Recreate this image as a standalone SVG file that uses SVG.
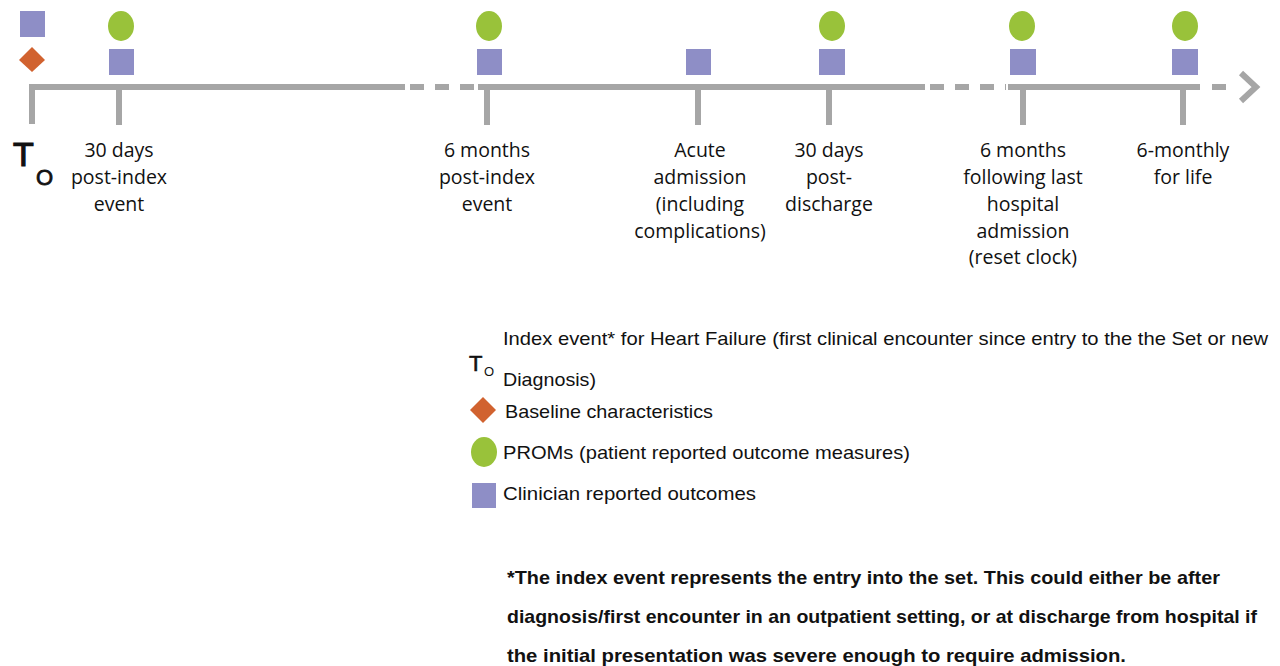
<svg xmlns="http://www.w3.org/2000/svg" width="1280" height="666" viewBox="0 0 1280 666">
<style>
.ln{stroke:#a6a6a6;stroke-width:6;fill:none}
.dash{stroke:#a6a6a6;stroke-width:6;fill:none;stroke-dasharray:14 11}
.sq{fill:#8e8ec6}
.ci{fill:#99c23a}
.di{fill:#d1622f}
.lab{font-family:"Open Sans","Liberation Sans",sans-serif;font-size:19.5px;fill:#111;text-anchor:middle}
.leg{font-family:"Liberation Sans",sans-serif;font-size:19px;fill:#111}
.foot{font-family:"Liberation Sans",sans-serif;font-size:19px;font-weight:bold;fill:#111}
</style>
<rect width="1280" height="666" fill="#fff"/>
<g id="connectors">
<path class="ln" d="M32,124 V87 H405"/>
<path class="dash" d="M410,87 H478"/>
<path class="ln" d="M478,87 H925"/>
<path class="dash" d="M930,87 H1006"/>
<path class="ln" d="M1008,87 H1200"/>
<path class="dash" d="M1212,87 H1234"/>
<path class="ln" d="M1241,73 L1256,87 L1241,101" stroke-width="4"/>
<path class="ln" d="M119,87 V125 M487,87 V125 M698,87 V125 M829,87 V125 M1023,87 V125 M1183,87 V125"/>
</g>
<g id="t0">
<rect class="sq" x="20" y="11" width="25" height="26"/>
<polygon class="di" points="32,47 45,60 32,72 19,60"/>
<text x="13" y="166" font-family="Liberation Sans,sans-serif" font-size="34" fill="#111" stroke="#111" stroke-width="1.2">T</text>
<text x="36" y="185" font-family="Liberation Sans,sans-serif" font-size="22" fill="#111" stroke="#111" stroke-width="0.8">O</text>
</g>
<g id="d30">
<ellipse class="ci" cx="121" cy="26" rx="13" ry="15"/>
<rect class="sq" x="109" y="49" width="25" height="26"/>
<text class="lab" x="119" y="157">30 days</text>
<text class="lab" x="119" y="184">post-index</text>
<text class="lab" x="119" y="211">event</text>
</g>
<g id="m6">
<ellipse class="ci" cx="489" cy="26" rx="13" ry="15"/>
<rect class="sq" x="477" y="49" width="25" height="26"/>
<text class="lab" x="487" y="157">6 months</text>
<text class="lab" x="487" y="184">post-index</text>
<text class="lab" x="487" y="211">event</text>
</g>
<g id="acute">
<rect class="sq" x="686" y="49" width="25" height="26"/>
<text class="lab" x="700" y="157">Acute</text>
<text class="lab" x="700" y="184">admission</text>
<text class="lab" x="700" y="211">(including</text>
<text class="lab" x="700" y="238">complications)</text>
</g>
<g id="post-discharge">
<ellipse class="ci" cx="832" cy="26" rx="13" ry="15"/>
<rect class="sq" x="819" y="49" width="26" height="26"/>
<text class="lab" x="829" y="157">30 days</text>
<text class="lab" x="829" y="184">post-</text>
<text class="lab" x="829" y="211">discharge</text>
</g>
<g id="reset">
<ellipse class="ci" cx="1022" cy="26" rx="13" ry="15"/>
<rect class="sq" x="1010" y="49" width="26" height="26"/>
<text class="lab" x="1023" y="157">6 months</text>
<text class="lab" x="1023" y="184">following last</text>
<text class="lab" x="1023" y="211">hospital</text>
<text class="lab" x="1023" y="238">admission</text>
<text class="lab" x="1023" y="264">(reset clock)</text>
</g>
<g id="life">
<ellipse class="ci" cx="1185" cy="26" rx="13" ry="15"/>
<rect class="sq" x="1172" y="49" width="26" height="26"/>
<text class="lab" x="1183" y="157">6-monthly</text>
<text class="lab" x="1183" y="184">for life</text>
</g>
<g id="legend">
<text x="469" y="371" font-family="Liberation Sans,sans-serif" font-size="22" fill="#111" stroke="#111" stroke-width="0.6">T</text>
<text x="484" y="376" font-family="Liberation Sans,sans-serif" font-size="13" fill="#111">O</text>
<text class="leg" x="503" y="345" textLength="765" lengthAdjust="spacingAndGlyphs">Index event* for Heart Failure (first clinical encounter since entry to the the Set or new</text>
<text class="leg" x="503" y="386" textLength="93" lengthAdjust="spacingAndGlyphs">Diagnosis)</text>
<polygon class="di" points="483,397 496,410 483,423 470,410"/>
<text class="leg" x="505" y="418" textLength="208" lengthAdjust="spacingAndGlyphs">Baseline characteristics</text>
<ellipse class="ci" cx="484" cy="452" rx="13" ry="15"/>
<text class="leg" x="503" y="459" textLength="407" lengthAdjust="spacingAndGlyphs">PROMs (patient reported outcome measures)</text>
<rect class="sq" x="472" y="483" width="24" height="25"/>
<text class="leg" x="503" y="500" textLength="253" lengthAdjust="spacingAndGlyphs">Clinician reported outcomes</text>
</g>
<g id="footnote">
<text class="foot" x="507" y="584" textLength="713" lengthAdjust="spacingAndGlyphs">*The index event represents the entry into the set. This could either be after</text>
<text class="foot" x="507" y="623" textLength="750" lengthAdjust="spacingAndGlyphs">diagnosis/first encounter in an outpatient setting, or at discharge from hospital if</text>
<text class="foot" x="507" y="662" textLength="619" lengthAdjust="spacingAndGlyphs">the initial presentation was severe enough to require admission.</text>
</g>
</svg>
